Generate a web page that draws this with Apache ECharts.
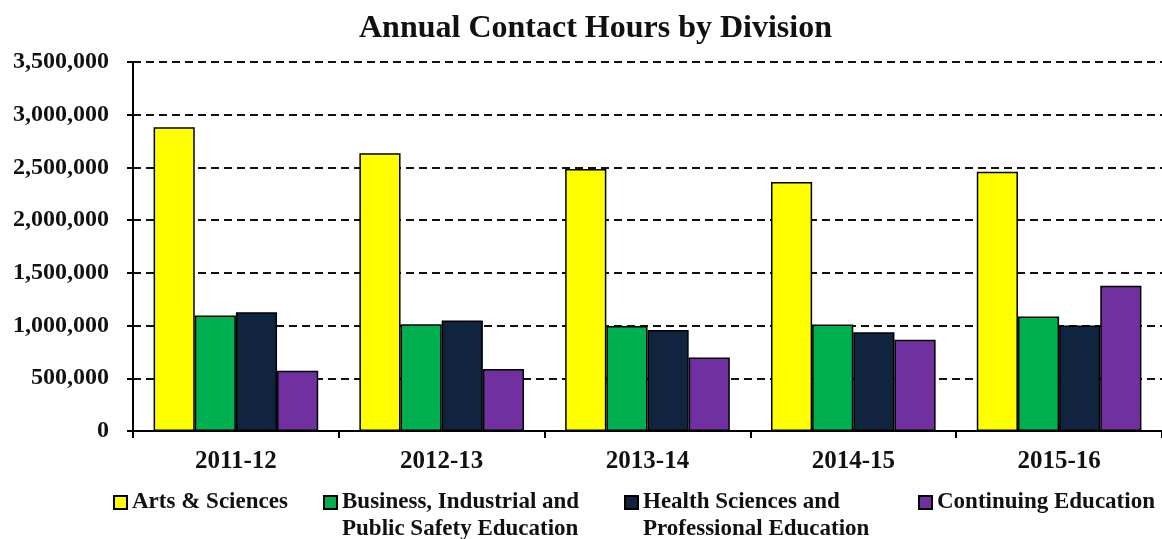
<!DOCTYPE html>
<html>
<head>
<meta charset="utf-8">
<script src="https://cdn.jsdelivr.net/npm/echarts@6/dist/echarts.min.js"></script>
<style>
  html, body { margin: 0; padding: 0; background: #fff; }
  #chart { width: 1162px; height: 539px; }
</style>
</head>
<body>
<div id="chart"></div>
<script>
const years = ['2011-12', '2012-13', '2013-14', '2014-15', '2015-16'];
const artsSciences = [2880000, 2635000, 2485000, 2362000, 2458000];
const businessIndustrial = [1095000, 1012000, 997000, 1010000, 1085000];
const healthSciences = [1126000, 1047000, 958000, 937000, 1000000];
const continuingEd = [572000, 588000, 696000, 866000, 1378000];
const yTicks = [0, 500000, 1000000, 1500000, 2000000, 2500000, 3000000, 3500000];

const serif = '"Liberation Serif", "DejaVu Serif", serif';
const chart = echarts.init(document.getElementById('chart'));

function fmt(v) {
  return v.toLocaleString('en-US');
}

function bar(name, data, color) {
  return {
    name,
    type: 'bar',
    data,
    barGap: '0%',
    barCategoryGap: '20%',
    itemStyle: { color, borderColor: '#000', borderWidth: 1.5 },
  };
}

// two-line entries start with an empty line so the icon lines up with the first real line
const legendText = { fontFamily: serif, fontWeight: 'bold', fontSize: 23, color: '#111', lineHeight: 27 };
const legendBase = {
  top: 489,
  padding: 0,
  itemWidth: 13,
  itemHeight: 13,
  itemGap: 0,
  icon: 'rect',
  textStyle: legendText,
};

chart.setOption({
  animation: false,
  backgroundColor: '#fff',
  title: {
    text: 'Annual Contact Hours by Division',
    left: 354,
    top: 8,
    textStyle: { fontFamily: serif, fontWeight: 'bold', fontSize: 32, color: '#111' },
  },
  legend: [
    { ...legendBase, left: 113, data: ['Arts & Sciences'] },
    {
      ...legendBase, left: 323, top: 462, data: ['Business, Industrial and Public Safety Education'],
      formatter: () => '\nBusiness, Industrial and\nPublic Safety Education',
    },
    {
      ...legendBase, left: 624, top: 462, data: ['Health Sciences and Professional Education'],
      formatter: () => '\nHealth Sciences and\nProfessional Education',
    },
    { ...legendBase, left: 918, data: ['Continuing Education'] },
  ],
  grid: { left: 133, top: 62, bottom: 108, width: 1035 },
  xAxis: {
    type: 'category',
    data: years,
    axisLine: { lineStyle: { color: '#000', width: 2 } },
    axisTick: { show: true, length: 7, lineStyle: { color: '#000', width: 2 } },
    axisLabel: { fontFamily: serif, fontWeight: 'bold', fontSize: 25, color: '#111', margin: 18 },
  },
  yAxis: {
    type: 'value',
    min: 0,
    max: yTicks[yTicks.length - 1],
    interval: yTicks[1] - yTicks[0],
    axisLine: { show: true, lineStyle: { color: '#000', width: 2 } },
    axisTick: { show: true, length: 6, lineStyle: { color: '#000', width: 2 } },
    axisLabel: {
      fontFamily: serif, fontWeight: 'bold', fontSize: 24, color: '#111', margin: 24,
      formatter: fmt,
    },
    splitLine: { lineStyle: { color: '#111', width: 2, type: [8, 5] } },
  },
  series: [
    bar('Arts & Sciences', artsSciences, '#FFFF00'),
    bar('Business, Industrial and Public Safety Education', businessIndustrial, '#00B050'),
    bar('Health Sciences and Professional Education', healthSciences, '#10243F'),
    bar('Continuing Education', continuingEd, '#7030A0'),
  ],
});
</script>
</body>
</html>
